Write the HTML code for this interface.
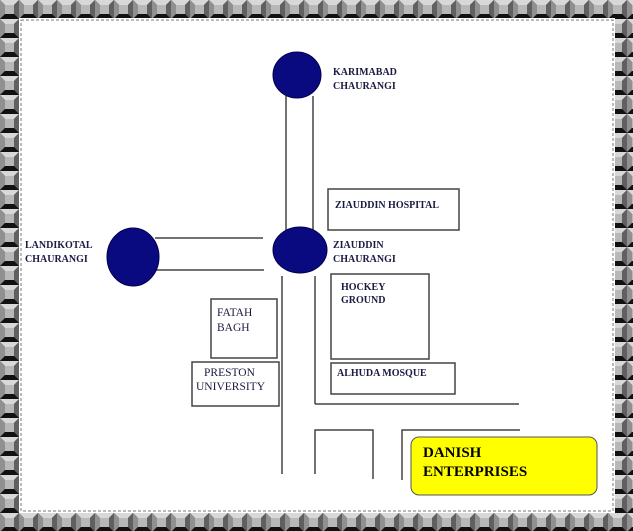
<!DOCTYPE html>
<html><head><style>
html,body{margin:0;padding:0;width:633px;height:531px;overflow:hidden;background:#fff}
svg{display:block}
text{font-family:"Liberation Serif",serif;fill:#1a1a40}
</style></head><body>
<svg width="633" height="531" viewBox="0 0 633 531">
<defs>
<pattern id="stud" x="0" y="0" width="19" height="19" patternUnits="userSpaceOnUse">
<rect width="19" height="19" fill="#444"/>
<polygon points="0,0 19,0 9.5,9.5" fill="#d8d8d8"/>
<polygon points="0,0 9.5,9.5 0,19" fill="#909090"/>
<polygon points="19,0 19,19 9.5,9.5" fill="#606060"/>
<polygon points="0,19 19,19 9.5,9.5" fill="#111"/>
<rect x="5" y="5" width="9" height="9" fill="#b8b8b8"/>
</pattern>
</defs>
<rect width="633" height="531" fill="url(#stud)"/>
<rect x="19" y="18" width="596" height="495" fill="#fff"/>
<rect x="21" y="20" width="592" height="491" fill="none" stroke="#777" stroke-dasharray="3,2"/>
<g stroke="#444" stroke-width="1.5" fill="none">
<line x1="286" y1="96" x2="286" y2="230"/>
<line x1="313" y1="96" x2="313" y2="230"/>
<line x1="155" y1="238" x2="263" y2="238"/>
<line x1="155" y1="270" x2="264" y2="270"/>
<line x1="282" y1="276" x2="282" y2="474"/>
<line x1="315" y1="276" x2="315" y2="404"/>
<line x1="315" y1="404" x2="519" y2="404"/>
<polyline points="315,474 315,430 373,430 373,479"/>
<polyline points="402,480 402,430 520,430"/>
<rect x="328" y="189" width="131" height="41"/>
<rect x="331" y="274" width="98" height="85"/>
<rect x="331" y="363" width="124" height="31"/>
<rect x="211" y="299" width="66" height="59"/>
<rect x="192" y="362" width="87" height="44"/>
</g>
<g fill="#0a0a80" stroke="#000050">
<ellipse cx="297" cy="75" rx="24" ry="23"/>
<ellipse cx="300" cy="250" rx="27" ry="23"/>
<ellipse cx="133" cy="257" rx="26" ry="29"/>
</g>
<rect x="411" y="437" width="186" height="58" rx="8" fill="#ffff00" stroke="#555"/>
<g font-size="10" font-weight="bold">
<text x="333" y="75">KARIMABAD</text><text x="333" y="89">CHAURANGI</text>
<text x="333" y="248">ZIAUDDIN</text><text x="333" y="262">CHAURANGI</text>
<text x="25" y="248">LANDIKOTAL</text><text x="25" y="262">CHAURANGI</text>
<text x="335" y="208">ZIAUDDIN HOSPITAL</text>
<text x="341" y="290">HOCKEY</text><text x="341" y="303">GROUND</text>
<text x="337" y="376">ALHUDA MOSQUE</text>
</g>
<g font-size="11.5">
<text x="217" y="316">FATAH</text><text x="217" y="331">BAGH</text>
<text x="204" y="376">PRESTON</text><text x="196" y="390">UNIVERSITY</text>
</g>
<g font-size="15" font-weight="bold">
<text x="423" y="457" style="fill:#000">DANISH</text>
<text x="423" y="476" style="fill:#000">ENTERPRISES</text>
</g>
</svg>
</body></html>
